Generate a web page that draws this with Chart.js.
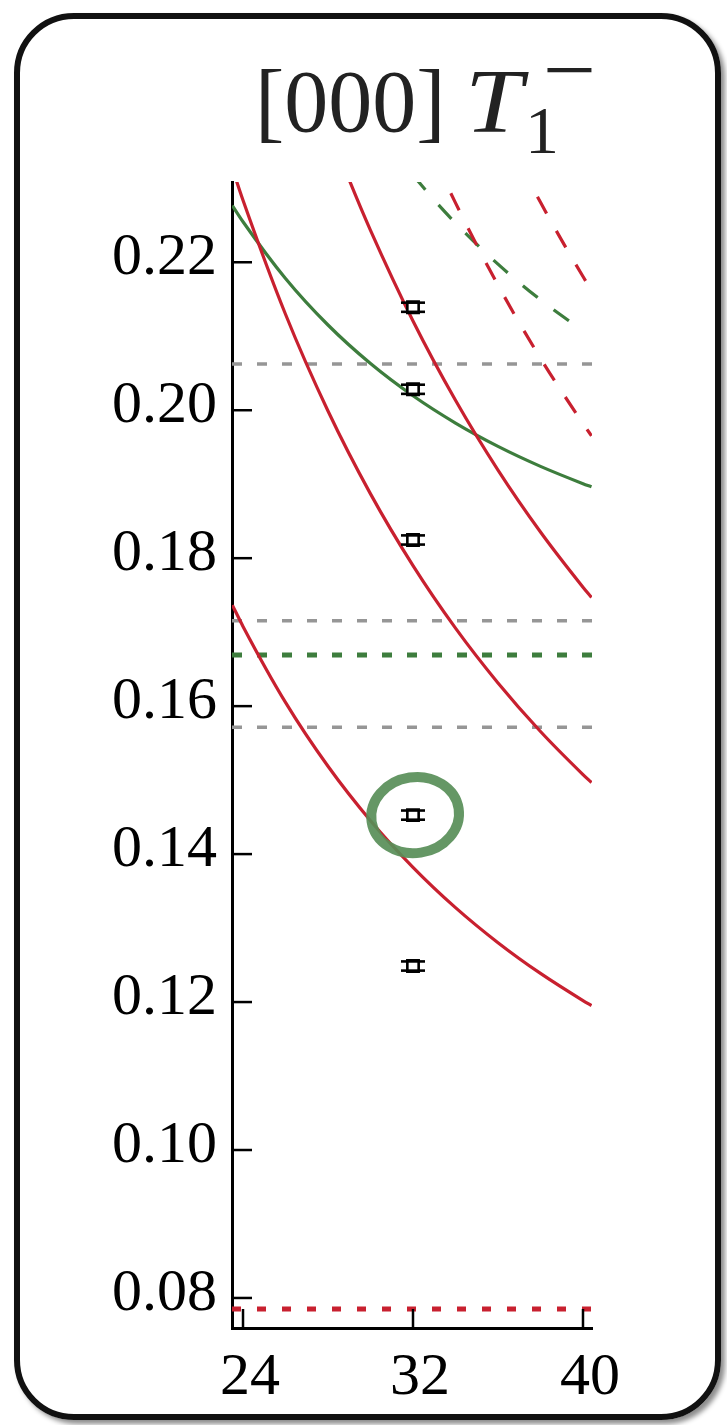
<!DOCTYPE html>
<html>
<head>
<meta charset="utf-8">
<script src="https://cdn.jsdelivr.net/npm/chart.js@4.4.1/dist/chart.umd.min.js"></script>
<style>
  html, body { margin: 0; padding: 0; background: #fff; }
  body { width: 727px; height: 1425px; position: relative; overflow: hidden;
         font-family: "Liberation Serif", "Times New Roman", serif; }
  #frame { position: absolute; left: 14px; top: 13px; width: 695px; height: 1395px;
           border: 6px solid #111; border-radius: 60px;
           box-shadow: 4px 4px 5px rgba(0,0,0,0.45); }
  #plot { position: absolute; left: 0; top: 0; }
  #title { position: absolute; left: 255px; top: 58px; font-size: 88px; line-height: 88px;
           color: #222; white-space: nowrap; }
  #title .it { position: absolute; left: 210px; top: 0; font-style: italic; font-size: 90px;
               transform: scaleX(1.15); transform-origin: 0 0; }
  #title .sub { position: absolute; left: 270px; top: 38px; font-size: 68px; line-height: 68px; }
  #title .sup { position: absolute; left: 288px; top: -33px; font-size: 90px; line-height: 90px;
                transform: scaleX(1.05); transform-origin: 0 0; }
</style>
</head>
<body>
<div id="frame"></div>
<canvas id="plot" width="727" height="1425"></canvas>
<div id="title">[000]<span class="it">T</span><span class="sub">1</span><span class="sup">−</span></div>
<script>
// Axis ticks
const xTicks = [24, 32, 40];
const yTicks = [0.08, 0.10, 0.12, 0.14, 0.16, 0.18, 0.20, 0.22];

// Non-interacting pi-pi levels (red) and K-Kbar levels (green), energy vs L
const curveL   = [23.5, 24, 26, 28, 30, 32, 34, 36, 38, 40, 40.4];
const pipi1    = [0.17365, 0.17078, 0.16051, 0.15187, 0.14452, 0.13822, 0.13277, 0.12803, 0.12387, 0.12020, 0.11952];
const pipi2    = [0.23267, 0.22838, 0.21297, 0.19989, 0.18869, 0.17899, 0.17054, 0.16313, 0.15657, 0.15075, 0.14967];
const pipi3L   = [28, 29, 30, 32, 34, 36, 38, 40, 40.4];
const pipi3    = [0.23843, 0.23112, 0.22432, 0.21207, 0.20135, 0.19191, 0.18354, 0.17608, 0.17469];
const pipi4L   = [33, 34, 36, 38, 40, 40.4];
const pipi4    = [0.23413, 0.22803, 0.21691, 0.20702, 0.19820, 0.19654];
const pipi5L   = [37, 38, 39, 40, 40.4];
const pipi5    = [0.23354, 0.22810, 0.22296, 0.21808, 0.21620];
const kk1      = [0.22766, 0.22548, 0.21781, 0.21152, 0.20631, 0.20195, 0.19826, 0.19511, 0.19241, 0.19007, 0.18964];
const kk2L     = [32, 33, 34, 36, 38, 40];
const kk2      = [0.23177, 0.22841, 0.22531, 0.21974, 0.21492, 0.21072];

// Thresholds (horizontal lines)
const thrGray  = [0.20625, 0.17155, 0.15715];
const thrKK    = 0.16692;
const thrPiPi  = 0.07851;

// Lattice energy levels at L = 32
const levelL   = [32, 32, 32, 32, 32];
const levelE   = [0.21392, 0.20283, 0.18246, 0.14527, 0.12487];
const levelErr = [0.00062, 0.00062, 0.00062, 0.00062, 0.00062];

// Highlighted level
const markL = 32.1, markE = 0.14527;

const xMin = 23.482, xMax = 40.424;
const yMin = 0.07594, yMax = 0.23085;

const RED = '#c8202f', GREEN = '#3d7d3d', GRAY = '#969696';

const pairs = (xs, ys) => xs.map((x, i) => ({ x: x, y: ys[i] }));
const hline = v => [{ x: xMin, y: v }, { x: xMax, y: v }];

function curve(data, color, dashed) {
  return { data, showLine: true, borderColor: color, borderWidth: 3.2, pointRadius: 0,
           cubicInterpolationMode: 'monotone', borderDash: dashed ? [19, 20] : [], order: 2 };
}
function flat(v, color, width, dash) {
  return { data: hline(v), showLine: true, borderColor: color, borderWidth: width,
           pointRadius: 0, borderDash: dash, order: 3 };
}

const datasets = [
  { data: pairs(levelL, levelE), showLine: false, pointStyle: 'rect', pointRadius: 8,
    backgroundColor: '#fff', borderColor: '#000', borderWidth: 2.6, order: 0 },
  curve(pairs(curveL, pipi1), RED, false),
  curve(pairs(curveL, pipi2), RED, false),
  curve(pairs(pipi3L, pipi3), RED, false),
  curve(pairs(pipi4L, pipi4), RED, true),
  curve(pairs(pipi5L, pipi5), RED, true),
  curve(pairs(curveL, kk1), GREEN, false),
  curve(pairs(kk2L, kk2), GREEN, true),
  ...thrGray.map(v => flat(v, GRAY, 3.5, [10, 15])),
  flat(thrKK, GREEN, 5, [10, 15]),
  flat(thrPiPi, RED, 5, [9, 16])
];

// Inward ticks, error caps and the hand-drawn ring
const decorations = {
  id: 'decorations',
  afterDatasetsDraw(chart) {
    const { ctx, scales: { x, y } } = chart;
    ctx.save();
    // error caps
    ctx.strokeStyle = '#000';
    ctx.lineWidth = 2.6;
    levelE.forEach((e, i) => {
      const px = x.getPixelForValue(levelL[i]);
      [e + levelErr[i], e - levelErr[i]].forEach(v => {
        const py = y.getPixelForValue(v);
        ctx.beginPath();
        ctx.moveTo(px - 12, py);
        ctx.lineTo(px + 12, py);
        ctx.stroke();
      });
    });
    // ring around one level
    const cx = x.getPixelForValue(markL), cy = y.getPixelForValue(markE);
    ctx.strokeStyle = 'rgba(88,142,88,0.92)';
    ctx.lineWidth = 10;
    ctx.beginPath();
    ctx.ellipse(cx, cy, 44, 38, -0.15, 0, Math.PI * 2);
    ctx.stroke();
    ctx.restore();
  },
  afterDraw(chart) {
    const { ctx, scales: { x, y } } = chart;
    ctx.save();
    ctx.strokeStyle = '#000';
    ctx.lineWidth = 2.5;
    x.ticks.forEach(t => {
      const px = x.getPixelForValue(t.value);
      ctx.beginPath();
      ctx.moveTo(px, y.bottom);
      ctx.lineTo(px, y.bottom - 19);
      ctx.stroke();
    });
    y.ticks.forEach(t => {
      const py = y.getPixelForValue(t.value);
      ctx.beginPath();
      ctx.moveTo(x.left, py);
      ctx.lineTo(x.left + 20, py);
      ctx.stroke();
    });
    ctx.restore();
  }
};

new Chart(document.getElementById('plot'), {
  type: 'scatter',
  data: { datasets },
  plugins: [decorations],
  options: {
    responsive: false,
    animation: false,
    devicePixelRatio: 1,
    layout: { padding: { top: 182, right: 135, left: 0, bottom: 0 } },
    plugins: { legend: { display: false }, tooltip: { enabled: false } },
    scales: {
      x: {
        type: 'linear', min: xMin, max: xMax,
        afterBuildTicks: s => { s.ticks = xTicks.map(v => ({ value: v })); },
        afterFit: s => { s.height = 97; },
        grid: { display: true, drawOnChartArea: false, drawTicks: false, color: '#000' },
        border: { display: true, color: '#000', width: 3 },
        ticks: { color: '#000', padding: 14, labelOffset: 7, maxRotation: 0,
                 font: { family: 'Liberation Serif', size: 60 },
                 callback: v => String(v) }
      },
      y: {
        type: 'linear', min: yMin, max: yMax,
        afterBuildTicks: s => { s.ticks = yTicks.map(v => ({ value: v })); },
        afterFit: s => { s.width = 232; },
        grid: { display: true, drawOnChartArea: false, drawTicks: false, color: '#000' },
        border: { display: true, color: '#000', width: 3 },
        ticks: { color: '#000', padding: 15, labelOffset: -4,
                 font: { family: 'Liberation Serif', size: 60 },
                 callback: v => v.toFixed(2) }
      }
    }
  }
});
</script>
</body>
</html>
